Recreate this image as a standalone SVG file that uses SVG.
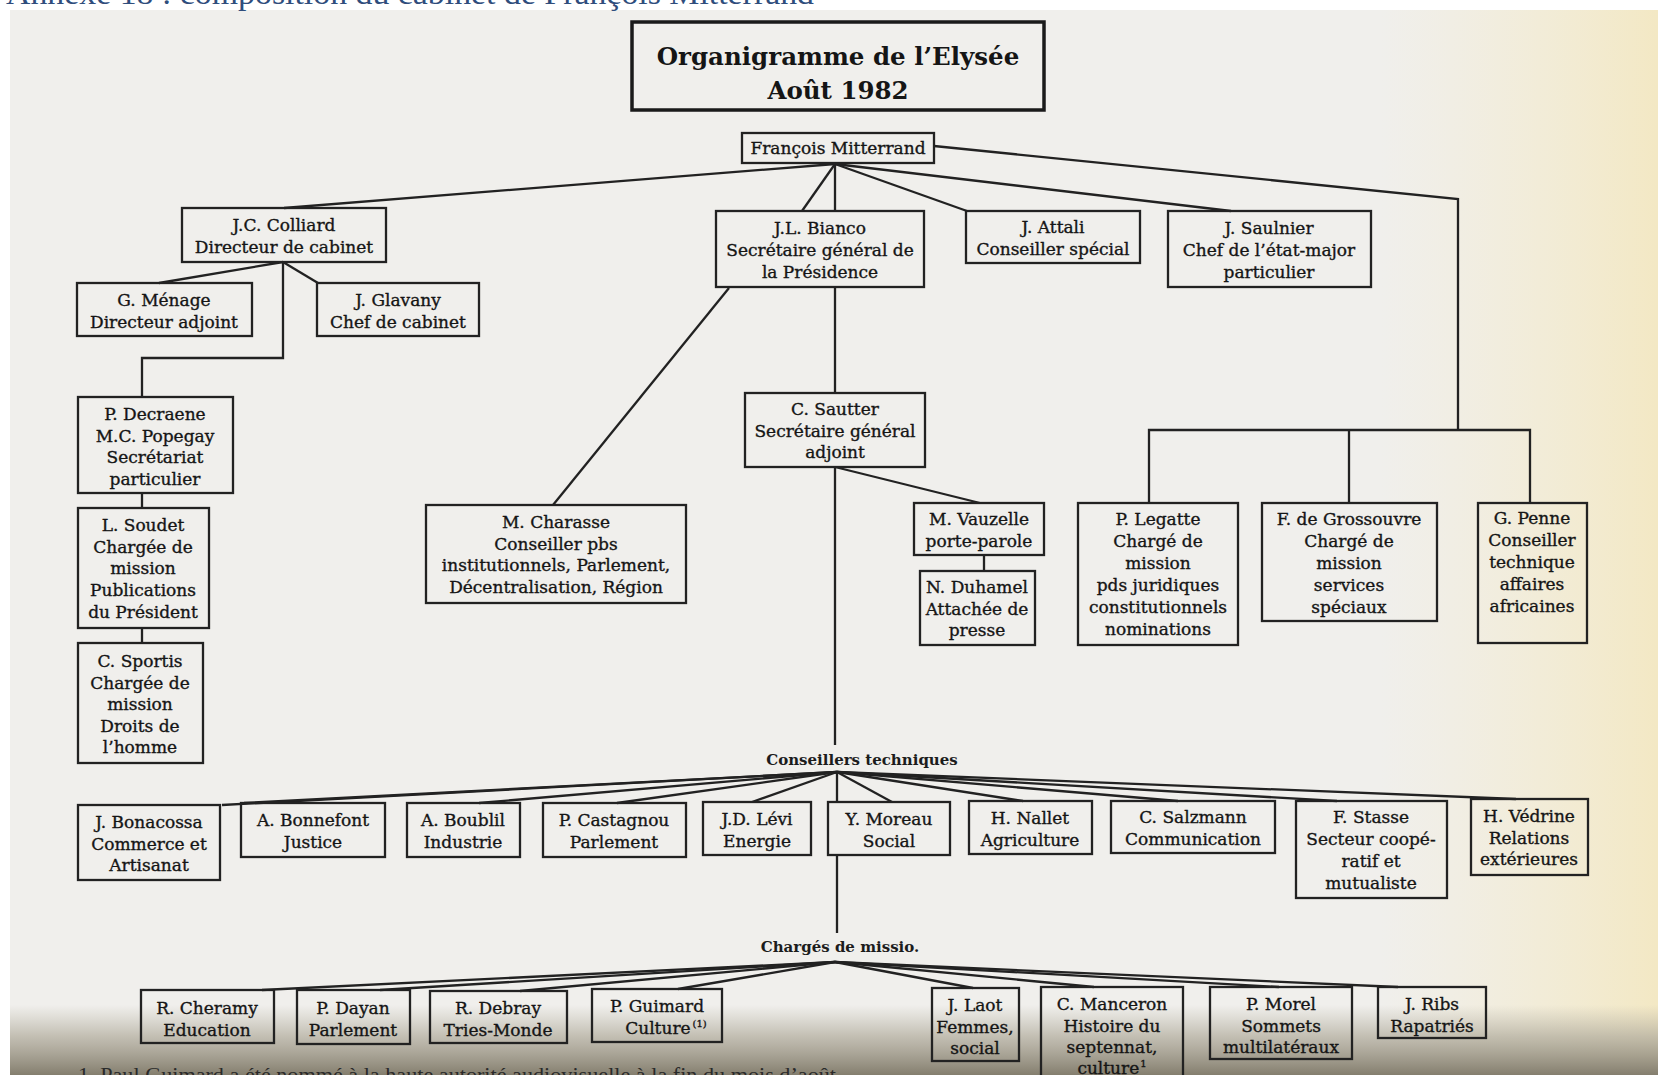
<svg xmlns="http://www.w3.org/2000/svg" width="1658" height="1075" viewBox="0 0 1658 1075">
<style>
.box{fill:none;stroke:#222;stroke-width:2.3}
.tbox{fill:none;stroke:#1a1a1a;stroke-width:3.5}
.t{font-family:"DejaVu Serif","Liberation Serif",serif;font-size:17px;fill:#151515;stroke:#151515;stroke-width:0.35;text-anchor:middle}
.ttl{font-family:"DejaVu Serif","Liberation Serif",serif;font-size:24.5px;font-weight:bold;fill:#151515;text-anchor:middle}
.lbl{font-family:"DejaVu Serif","Liberation Serif",serif;font-size:15px;font-weight:bold;fill:#1c1c1c;text-anchor:middle}
.sup{font-size:10px}
#connectors path{fill:none;stroke:#222;stroke-width:2.3;stroke-linejoin:miter}
</style>
<defs>
<linearGradient id="yel" x1="0" y1="0" x2="1" y2="0">
<stop offset="0" stop-color="#f4ecd0" stop-opacity="0"/>
<stop offset="1" stop-color="#f3e8c4" stop-opacity="1"/>
</linearGradient>
<linearGradient id="bot" x1="0" y1="0" x2="0" y2="1">
<stop offset="0" stop-color="#b9b4a6" stop-opacity="0"/>
<stop offset="0.45" stop-color="#b3ae9f" stop-opacity="0.75"/>
<stop offset="1" stop-color="#847e6e" stop-opacity="1"/>
</linearGradient>
</defs>
<rect x="0" y="0" width="1658" height="1075" fill="#ffffff"/>
<rect x="10" y="10" width="1648" height="1065" fill="#f0efec"/>
<rect x="1380" y="10" width="278" height="1065" fill="url(#yel)"/>
<rect x="10" y="1005" width="1648" height="70" fill="url(#bot)"/>
<text x="6" y="4" font-family="Liberation Serif,serif" font-size="31" fill="#2f4d7c" textLength="808" lengthAdjust="spacingAndGlyphs">Annexe 18 : composition du cabinet de François Mitterrand</text>
<text x="78" y="1082" font-family="Liberation Serif,serif" font-size="20" fill="#2a2a2a" textLength="758" lengthAdjust="spacingAndGlyphs">1. Paul Guimard a été nommé à la haute autorité audiovisuelle à la fin du mois d’août</text>

<g id="connectors">
<path d="M835,164 L284,208"/>
<path d="M835,164 L802,211"/>
<path d="M835,164 L835,211"/>
<path d="M835,164 L967,211"/>
<path d="M835,164 L1231,211"/>
<path d="M934,146 L1458,199 L1458,430"/>
<path d="M1149,503 L1149,430 L1530,430 L1530,503"/>
<path d="M1349,430 L1349,503"/>
<path d="M283,262 L159,283"/>
<path d="M283,262 L318,283"/>
<path d="M283,262 L283,358 L142,358 L142,397"/>
<path d="M142,493 L142,508"/>
<path d="M142,628 L142,643"/>
<path d="M729,288 L553,505"/>
<path d="M835,287 L835,393"/>
<path d="M835,467 L835,745"/>
<path d="M835,467 L980,503"/>
<path d="M984,555 L984,571"/>
<path d="M837,772 L222,805"/>
<path d="M837,772 L244,803"/>
<path d="M837,772 L479,803"/>
<path d="M837,772 L617,803"/>
<path d="M837,772 L752,802"/>
<path d="M837,772 L837,802"/>
<path d="M837,772 L892,802"/>
<path d="M837,772 L1023,801"/>
<path d="M837,772 L1178,801"/>
<path d="M837,772 L1337,801"/>
<path d="M837,772 L1516,799"/>
<path d="M837,855 L837,933"/>
<path d="M835,962 L262,990"/>
<path d="M835,962 L380,990"/>
<path d="M835,962 L520,991"/>
<path d="M835,962 L678,989"/>
<path d="M835,962 L973,988"/>
<path d="M835,962 L1094,987"/>
<path d="M835,962 L1279,987"/>
<path d="M835,962 L1398,987"/>
</g>

<g id="title">
<rect class="tbox" x="632" y="22" width="412" height="88"/>
<text class="ttl" x="838" y="65">Organigramme de l’Elysée</text>
<text class="ttl" x="838" y="99">Août 1982</text>
</g>

<g id="mitterrand">
<rect class="box" x="742" y="133" width="192" height="30"/>
<text class="t" x="838" y="154">François Mitterrand</text>
</g>

<g id="colliard">
<rect class="box" x="182" y="208" width="204" height="54"/>
<text class="t" x="284" y="231"><tspan x="284">J.C. Colliard</tspan><tspan x="284" dy="22">Directeur de cabinet</tspan></text>
</g>

<g id="bianco">
<rect class="box" x="716" y="211" width="208" height="76"/>
<text class="t" x="820" y="234"><tspan x="820">J.L. Bianco</tspan><tspan x="820" dy="22">Secrétaire général de</tspan><tspan x="820" dy="22">la Présidence</tspan></text>
</g>

<g id="attali">
<rect class="box" x="966" y="211" width="174" height="52"/>
<text class="t" x="1053" y="233"><tspan x="1053">J. Attali</tspan><tspan x="1053" dy="22">Conseiller spécial</tspan></text>
</g>

<g id="saulnier">
<rect class="box" x="1168" y="211" width="203" height="76"/>
<text class="t" x="1269" y="234"><tspan x="1269">J. Saulnier</tspan><tspan x="1269" dy="22">Chef de l’état-major</tspan><tspan x="1269" dy="22">particulier</tspan></text>
</g>

<g id="menage">
<rect class="box" x="77" y="283" width="175" height="53"/>
<text class="t" x="164" y="306"><tspan x="164">G. Ménage</tspan><tspan x="164" dy="22">Directeur adjoint</tspan></text>
</g>

<g id="glavany">
<rect class="box" x="317" y="283" width="162" height="53"/>
<text class="t" x="398" y="306"><tspan x="398">J. Glavany</tspan><tspan x="398" dy="22">Chef de cabinet</tspan></text>
</g>

<g id="decraene">
<rect class="box" x="78" y="397" width="155" height="96"/>
<text class="t" x="155" y="420"><tspan x="155">P. Decraene</tspan><tspan x="155" dy="21.5">M.C. Popegay</tspan><tspan x="155" dy="21.5">Secrétariat</tspan><tspan x="155" dy="21.5">particulier</tspan></text>
</g>

<g id="soudet">
<rect class="box" x="78" y="508" width="131" height="120"/>
<text class="t" x="143" y="531"><tspan x="143">L. Soudet</tspan><tspan x="143" dy="21.7">Chargée de</tspan><tspan x="143" dy="21.7">mission</tspan><tspan x="143" dy="21.7">Publications</tspan><tspan x="143" dy="21.7">du Président</tspan></text>
</g>

<g id="sportis">
<rect class="box" x="78" y="643" width="125" height="120"/>
<text class="t" x="140" y="667"><tspan x="140">C. Sportis</tspan><tspan x="140" dy="21.5">Chargée de</tspan><tspan x="140" dy="21.5">mission</tspan><tspan x="140" dy="21.5">Droits de</tspan><tspan x="140" dy="21.5">l’homme</tspan></text>
</g>

<g id="charasse">
<rect class="box" x="426" y="505" width="260" height="98"/>
<text class="t" x="556" y="528"><tspan x="556">M. Charasse</tspan><tspan x="556" dy="21.5">Conseiller pbs</tspan><tspan x="556" dy="21.5">institutionnels, Parlement,</tspan><tspan x="556" dy="21.5">Décentralisation, Région</tspan></text>
</g>

<g id="sautter">
<rect class="box" x="745" y="393" width="180" height="74"/>
<text class="t" x="835" y="415"><tspan x="835">C. Sautter</tspan><tspan x="835" dy="21.5">Secrétaire général</tspan><tspan x="835" dy="21.5">adjoint</tspan></text>
</g>

<g id="vauzelle">
<rect class="box" x="914" y="503" width="130" height="52"/>
<text class="t" x="979" y="525"><tspan x="979">M. Vauzelle</tspan><tspan x="979" dy="21.5">porte-parole</tspan></text>
</g>

<g id="duhamel">
<rect class="box" x="920" y="571" width="115" height="74"/>
<text class="t" x="977" y="593"><tspan x="977">N. Duhamel</tspan><tspan x="977" dy="21.5">Attachée de</tspan><tspan x="977" dy="21.5">presse</tspan></text>
</g>

<g id="legatte">
<rect class="box" x="1078" y="503" width="160" height="142"/>
<text class="t" x="1158" y="525"><tspan x="1158">P. Legatte</tspan><tspan x="1158" dy="22">Chargé de</tspan><tspan x="1158" dy="22">mission</tspan><tspan x="1158" dy="22">pds juridiques</tspan><tspan x="1158" dy="22">constitutionnels</tspan><tspan x="1158" dy="22">nominations</tspan></text>
</g>

<g id="grossouvre">
<rect class="box" x="1262" y="503" width="175" height="118"/>
<text class="t" x="1349" y="525"><tspan x="1349">F. de Grossouvre</tspan><tspan x="1349" dy="22">Chargé de</tspan><tspan x="1349" dy="22">mission</tspan><tspan x="1349" dy="22">services</tspan><tspan x="1349" dy="22">spéciaux</tspan></text>
</g>

<g id="penne">
<rect class="box" x="1478" y="503" width="109" height="140"/>
<text class="t" x="1532" y="524"><tspan x="1532">G. Penne</tspan><tspan x="1532" dy="22">Conseiller</tspan><tspan x="1532" dy="22">technique</tspan><tspan x="1532" dy="22">affaires</tspan><tspan x="1532" dy="22">africaines</tspan></text>
</g>

<g id="conseillers-techniques">
<text class="lbl" x="862" y="765">Conseillers techniques</text>
</g>

<g id="bonacossa">
<rect class="box" x="78" y="805" width="142" height="75"/>
<text class="t" x="149" y="828"><tspan x="149">J. Bonacossa</tspan><tspan x="149" dy="21.5">Commerce et</tspan><tspan x="149" dy="21.5">Artisanat</tspan></text>
</g>

<g id="bonnefont">
<rect class="box" x="241" y="803" width="144" height="54"/>
<text class="t" x="313" y="826"><tspan x="313">A. Bonnefont</tspan><tspan x="313" dy="21.5">Justice</tspan></text>
</g>

<g id="boublil">
<rect class="box" x="407" y="803" width="113" height="54"/>
<text class="t" x="463" y="826"><tspan x="463">A. Boublil</tspan><tspan x="463" dy="21.5">Industrie</tspan></text>
</g>

<g id="castagnou">
<rect class="box" x="543" y="803" width="143" height="54"/>
<text class="t" x="614" y="826"><tspan x="614">P. Castagnou</tspan><tspan x="614" dy="21.5">Parlement</tspan></text>
</g>

<g id="levi">
<rect class="box" x="703" y="802" width="108" height="53"/>
<text class="t" x="757" y="825"><tspan x="757">J.D. Lévi</tspan><tspan x="757" dy="21.5">Energie</tspan></text>
</g>

<g id="moreau">
<rect class="box" x="828" y="802" width="122" height="53"/>
<text class="t" x="889" y="825"><tspan x="889">Y. Moreau</tspan><tspan x="889" dy="21.5">Social</tspan></text>
</g>

<g id="nallet">
<rect class="box" x="969" y="801" width="123" height="53"/>
<text class="t" x="1030" y="824"><tspan x="1030">H. Nallet</tspan><tspan x="1030" dy="21.5">Agriculture</tspan></text>
</g>

<g id="salzmann">
<rect class="box" x="1111" y="801" width="164" height="52"/>
<text class="t" x="1193" y="823"><tspan x="1193">C. Salzmann</tspan><tspan x="1193" dy="21.5">Communication</tspan></text>
</g>

<g id="stasse">
<rect class="box" x="1296" y="801" width="151" height="97"/>
<text class="t" x="1371" y="823"><tspan x="1371">F. Stasse</tspan><tspan x="1371" dy="22">Secteur coopé-</tspan><tspan x="1371" dy="22">ratif et</tspan><tspan x="1371" dy="22">mutualiste</tspan></text>
</g>

<g id="vedrine">
<rect class="box" x="1471" y="799" width="117" height="76"/>
<text class="t" x="1529" y="822"><tspan x="1529">H. Védrine</tspan><tspan x="1529" dy="21.5">Relations</tspan><tspan x="1529" dy="21.5">extérieures</tspan></text>
</g>

<g id="charges-de-mission">
<text class="lbl" x="840" y="952">Chargés de missio.</text>
</g>

<g id="cheramy">
<rect class="box" x="141" y="990" width="133" height="53"/>
<text class="t" x="207" y="1014"><tspan x="207">R. Cheramy</tspan><tspan x="207" dy="22">Education</tspan></text>
</g>

<g id="dayan">
<rect class="box" x="297" y="990" width="113" height="54"/>
<text class="t" x="353" y="1014"><tspan x="353">P. Dayan</tspan><tspan x="353" dy="22">Parlement</tspan></text>
</g>

<g id="debray">
<rect class="box" x="430" y="991" width="137" height="52"/>
<text class="t" x="498" y="1014"><tspan x="498">R. Debray</tspan><tspan x="498" dy="22">Tries-Monde</tspan></text>
</g>

<g id="guimard">
<rect class="box" x="592" y="989" width="130" height="53"/>
<text class="t" x="657" y="1012">P. Guimard</text>
<text class="t" x="666" y="1034">Culture<tspan class="sup" dx="2" dy="-7">(1)</tspan></text>
</g>

<g id="laot">
<rect class="box" x="932" y="988" width="87" height="73"/>
<text class="t" x="975" y="1011"><tspan x="975">J. Laot</tspan><tspan x="975" dy="21.5">Femmes,</tspan><tspan x="975" dy="21.5">social</tspan></text>
</g>

<g id="manceron">
<rect class="box" x="1041" y="987" width="142" height="100"/>
<text class="t" x="1112" y="1010"><tspan x="1112">C. Manceron</tspan><tspan x="1112" dy="21.5">Histoire du</tspan><tspan x="1112" dy="21.5">septennat,</tspan></text>
<text class="t" x="1112" y="1074">culture<tspan class="sup" dx="1" dy="-7">1</tspan></text>
</g>

<g id="morel">
<rect class="box" x="1210" y="987" width="142" height="72"/>
<text class="t" x="1281" y="1010"><tspan x="1281">P. Morel</tspan><tspan x="1281" dy="21.5">Sommets</tspan><tspan x="1281" dy="21.5">multilatéraux</tspan></text>
</g>

<g id="ribs">
<rect class="box" x="1378" y="987" width="108" height="51"/>
<text class="t" x="1432" y="1010"><tspan x="1432">J. Ribs</tspan><tspan x="1432" dy="22">Rapatriés</tspan></text>
</g>
</svg>
